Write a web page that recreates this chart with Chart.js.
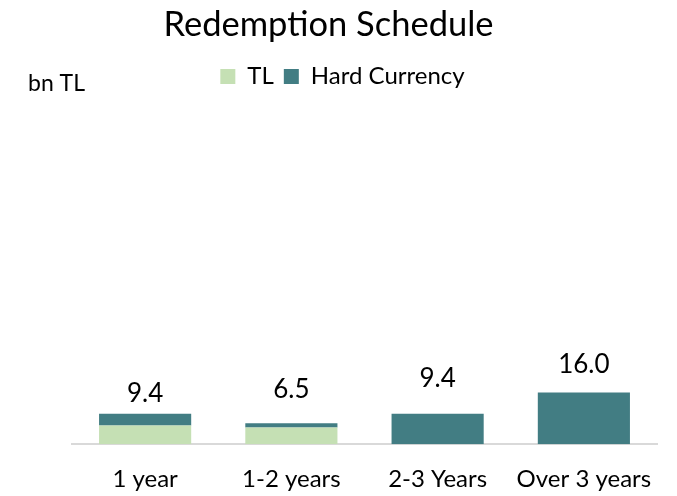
<!DOCTYPE html>
<html>
<head>
<meta charset="utf-8">
<script src="https://cdn.jsdelivr.net/npm/chart.js@4/dist/chart.umd.min.js"></script>
<style>
    html, body { margin: 0; padding: 0; background: #fff; }
    #wrap { width: 677px; height: 496px; }
</style>
</head>
<body>
<div id="wrap"><canvas id="redemptionChart" width="677" height="496"></canvas></div>
<script>
// Redemption schedule, bn TL
const maturityBuckets = ['1 year', '1-2 years', '2-3 Years', 'Over 3 years'];
const tlValues = [5.8, 5.2, 0, 0];
const hardCurrencyValues = [3.6, 1.3, 9.4, 16.0];

// gap (px) between the top of each stack and its total label
const labelGaps = [12, 26, 27, 20];

const FONT = 'Lato, "Open Sans", sans-serif';

/**
 * Writes the stack total above each bar and the unit note at top left
 */
const totalsPlugin = {
    id: 'totals',
    afterLayout(chart) {
        // legend sits a little right of the title
        if (chart.legend) {
            chart.legend.left += 14;
            chart.legend.right += 14;
        }
    },
    afterDatasetsDraw(chart) {
        const ctx = chart.ctx;
        const x = chart.scales.x;
        const y = chart.scales.y;
        ctx.save();
        ctx.fillStyle = '#000';
        ctx.font = '26px ' + FONT;
        ctx.textAlign = 'center';
        ctx.textBaseline = 'bottom';
        maturityBuckets.forEach((_, i) => {
            const total = tlValues[i] + hardCurrencyValues[i];
            const top = y.getPixelForValue(total);
            ctx.fillText(total.toFixed(1), x.getPixelForValue(i), top - labelGaps[i] + 5);
        });

        ctx.font = '23px ' + FONT;
        ctx.textAlign = 'left';
        ctx.textBaseline = 'middle';
        ctx.fillText('bn TL', 28, 84);
        ctx.restore();
    }
};

new Chart(document.getElementById('redemptionChart').getContext('2d'), {
    type: 'bar',
    data: {
        labels: maturityBuckets,
        datasets: [{
            label: 'TL',
            data: tlValues,
            backgroundColor: '#C5E0B4',
            borderWidth: 0
        }, {
            label: 'Hard Currency',
            data: hardCurrencyValues,
            backgroundColor: '#427D83',
            borderWidth: 0
        }]
    },
    options: {
        responsive: false,
        animation: false,
        layout: {
            padding: { left: 0, right: 20, top: 4, bottom: -19 }
        },
        datasets: {
            bar: {
                categoryPercentage: 1,
                barPercentage: 0.63
            }
        },
        plugins: {
            title: {
                display: true,
                text: 'Redemption Schedule',
                color: '#000',
                font: { family: FONT, size: 34.5, weight: 'normal' },
                padding: { top: 0, bottom: 9 }
            },
            legend: {
                position: 'top',
                labels: {
                    color: '#000',
                    font: { family: FONT, size: 24 },
                    boxWidth: 15,
                    boxHeight: 15,
                    padding: 10
                }
            },
            tooltip: { enabled: false }
        },
        scales: {
            x: {
                stacked: true,
                grid: { display: false, drawTicks: false },
                border: { color: '#D9D9D9', width: 2 },
                ticks: {
                    color: '#000',
                    font: { family: FONT, size: 24 },
                    padding: 21
                }
            },
            y: {
                stacked: true,
                min: 0,
                max: 107,
                grid: { display: false },
                border: { display: false },
                ticks: { display: false },
                // empty left gutter where the unit note sits
                afterFit(scale) {
                    scale.width = 72;
                }
            }
        }
    },
    plugins: [totalsPlugin]
});
</script>
</body>
</html>
